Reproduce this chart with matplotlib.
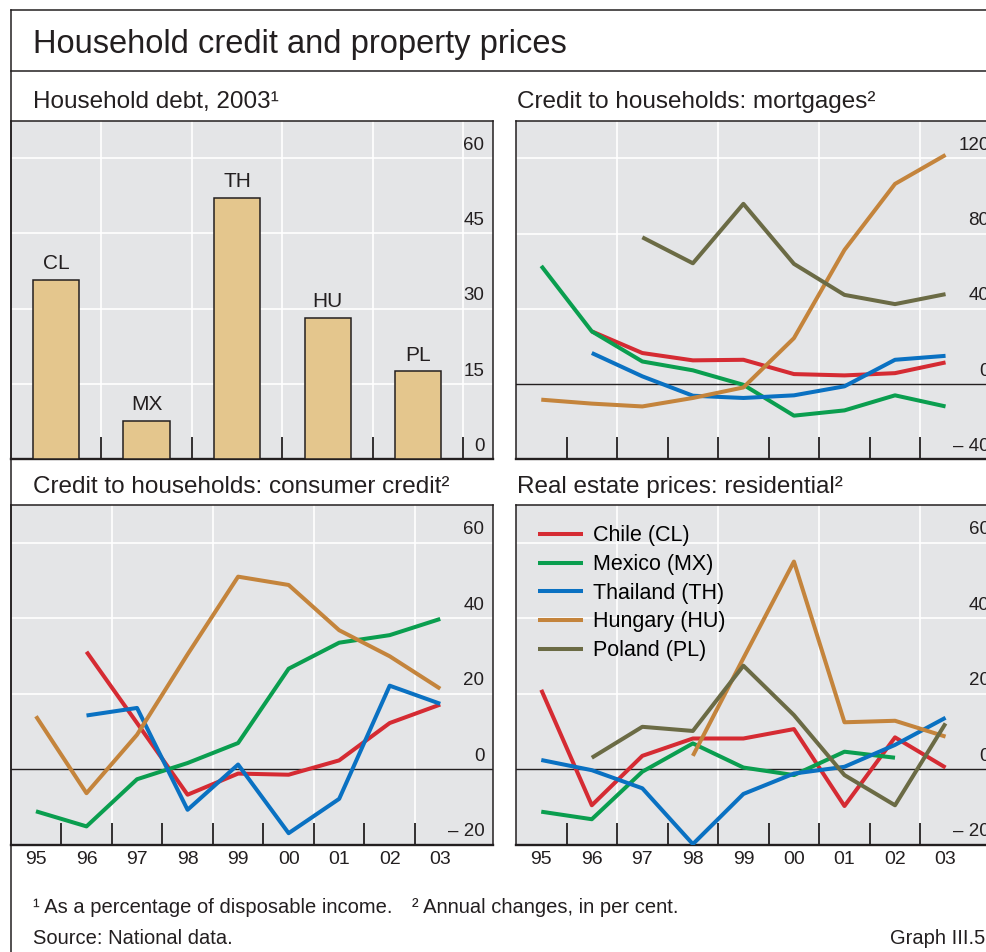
import numpy as np
import matplotlib
matplotlib.use('Agg')
import matplotlib.pyplot as plt
from matplotlib.transforms import offset_copy, blended_transform_factory
from matplotlib.lines import Line2D

plt.rcParams['font.family'] = ['Liberation Sans', 'DejaVu Sans']

nan = np.nan

# ---------------- data ----------------
countries = ['CL', 'MX', 'TH', 'HU', 'PL']
household_debt = [35.7, 7.6, 52.0, 28.1, 17.5]

years = ['95', '96', '97', '98', '99', '00', '01', '02', '03']
series_names = ['Chile (CL)', 'Mexico (MX)', 'Thailand (TH)', 'Hungary (HU)', 'Poland (PL)']

chile_mort = [nan, 28.0, 16.5, 12.6, 12.9, 5.3, 4.6, 5.8, 11.5]
mexico_mort = [62.8, 28.0, 12.0, 7.3, -0.4, -16.8, -14.0, -6.0, -11.9]
thai_mort = [nan, 16.5, 4.1, -6.2, -7.4, -6.0, -1.2, 12.9, 15.0]
hung_mort = [-8.3, -10.4, -11.9, -7.4, -1.8, 24.4, 71.3, 106.4, 121.8]
pol_mort = [nan, nan, 78.0, 64.2, 95.8, 63.9, 47.4, 42.5, 47.8]

chile_cons = [nan, 31.1, 12.2, -6.8, -1.2, -1.5, 2.3, 12.2, 17.1]
mexico_cons = [-11.2, -15.2, -2.7, 1.6, 6.9, 26.6, 33.5, 35.5, 39.8]
thai_cons = [nan, 14.2, 16.2, -10.8, 1.2, -17.0, -7.9, 22.1, 17.3]
hung_cons = [14.0, -6.4, 9.1, 30.4, 51.0, 48.8, 36.8, 29.9, 21.3]

chile_re = [21.0, -9.6, 3.5, 8.1, 8.1, 10.6, -9.8, 8.4, 0.4]
mexico_re = [-11.3, -13.3, -0.7, 6.8, 0.4, -1.6, 4.6, 3.0, nan]
thai_re = [2.4, -0.3, -5.1, -19.9, -6.6, -1.2, 0.6, 6.4, 13.6]
hung_re = [nan, nan, nan, 3.5, 29.4, 55.0, 12.4, 12.8, 8.6]
pol_re = [nan, 3.0, 11.2, 10.1, 27.4, 14.3, -1.6, -9.6, 12.1]

# ---------------- style ----------------
DARK = '#231f20'
BG = '#e4e5e7'
BAR = '#e4c68d'
COLORS = ['#d52b33', '#0a9e4f', '#0a71c2', '#c4843c', '#6b6b45']

W, H = 987, 952
fig = plt.figure(figsize=(W / 100, H / 100), dpi=100)


def rect(l, t, r, b):
    return [l / W, 1 - b / H, (r - l) / W, (b - t) / H]


def fig_line(x0, y0, x1, y1):
    fig.add_artist(Line2D([x0 / W, x1 / W], [1 - y0 / H, 1 - y1 / H],
                          transform=fig.transFigure, color=DARK, lw=1.1))


def fig_text(x, y, s, size, ha='left'):
    fig.text(x / W, 1 - y / H, s, fontsize=size, ha=ha, va='baseline', color=DARK)


def base_style(ax, ylim, yticks, ylabels, vgrid, minor, xlim, zero_line):
    ax.set_facecolor(BG)
    ax.set_xlim(xlim)
    ax.set_ylim(ylim)
    for v in yticks:
        if v == 0 and zero_line:
            ax.axhline(0, color=DARK, lw=1.0, zorder=2)
        elif ylim[0] < v < ylim[1]:
            ax.axhline(v, color='white', lw=1.2, zorder=1)
    for v in vgrid:
        ax.axvline(v, color='white', lw=1.2, zorder=1)
    trans = offset_copy(blended_transform_factory(ax.transAxes, ax.transData),
                        fig=fig, x=-6.5, y=6.0, units='points')
    for v, lab in zip(yticks, ylabels):
        ax.text(1, v, lab, transform=trans, ha='right', va='baseline',
                fontsize=13.5, color=DARK, clip_on=False, zorder=5)
    ax.set_yticks([])
    ax.set_xticks(minor, minor=True)
    ax.tick_params(axis='x', which='minor', direction='in', length=15.5,
                   width=1.3, color=DARK)
    for s in ax.spines.values():
        s.set_color(DARK)
        s.set_linewidth(1.1)
    ax.spines['bottom'].set_linewidth(1.7)


# ---------------- panel 1: bars ----------------
ax1 = fig.add_axes(rect(10.7, 120.7, 493.3, 459.3))
base_style(ax1, (0, 67.4), [0, 15, 30, 45, 60], ['0', '15', '30', '45', '60'],
           np.arange(0.5, 5), np.arange(0.5, 5), (-0.5, 4.83), False)
xpos = np.arange(len(countries))
ax1.bar(xpos, household_debt, width=0.51, color=BAR, edgecolor=DARK, lw=1.1, zorder=3)
for x, v, c in zip(xpos, household_debt, countries):
    ax1.annotate(c, (x, v), xytext=(0, 7.7), textcoords='offset points',
                 ha='center', va='baseline', fontsize=15, color=DARK)
ax1.set_xticks(xpos)
ax1.set_xticklabels([])
ax1.tick_params(axis='x', which='major', length=0)

# ---------------- line panels ----------------
xi = np.arange(len(years))
xlim_l = (-0.5, 9.05)
minor_l = np.arange(0.5, 8)
vgrid_l = [1.5, 3.5, 5.5, 7.5]


def line_panel(rc, series, ylim, yticks, ylabels, show_x, legend=False):
    ax = fig.add_axes(rc)
    base_style(ax, ylim, yticks, ylabels, vgrid_l, minor_l, xlim_l, True)
    for (name, data), col in zip(series, COLORS):
        if data is None:
            continue
        ax.plot(xi, data, color=col, lw=2.9, solid_capstyle='butt', zorder=3, label=name)
    ax.set_xticks(xi)
    if show_x:
        ax.set_xticklabels(years, fontsize=14, color=DARK)
    else:
        ax.set_xticklabels([])
    ax.tick_params(axis='x', which='major', length=0, pad=5)
    if legend:
        ax.legend(loc='upper left', bbox_to_anchor=(22 / 482.6, 1 - 20.5 / 339.5),
                  frameon=False, fontsize=15.5, handlelength=2.1, handletextpad=0.45,
                  labelspacing=0.355, borderpad=0, borderaxespad=0)
    return ax


line_panel(rect(516, 120.7, 998.6, 459.3),
           list(zip(series_names, [chile_mort, mexico_mort, thai_mort, hung_mort, pol_mort])),
           (-40, 140), [120, 80, 40, 0, -40], ['120', '80', '40', '0', '– 40'], False)

line_panel(rect(10.7, 505, 493.3, 844.5),
           list(zip(series_names, [chile_cons, mexico_cons, thai_cons, hung_cons, None])),
           (-20, 70), [60, 40, 20, 0, -20], ['60', '40', '20', '0', '– 20'], True)

line_panel(rect(516, 505, 998.6, 844.5),
           list(zip(series_names, [chile_re, mexico_re, thai_re, hung_re, pol_re])),
           (-20, 70), [60, 40, 20, 0, -20], ['60', '40', '20', '0', '– 20'], True, legend=True)

# ---------------- frame and text ----------------
fig_line(10.7, 10, 10.7, 952)
fig_line(10.7, 10, 987, 10)
fig_line(10.7, 70.7, 987, 70.7)

fig_text(33, 53.3, 'Household credit and property prices', 23.5)
fig_text(33, 108.3, 'Household debt, 2003¹', 17.5)
fig_text(517, 108.3, 'Credit to households: mortgages²', 17.5)
fig_text(33, 492.6, 'Credit to households: consumer credit²', 17.5)
fig_text(517, 492.6, 'Real estate prices: residential²', 17.5)

fig_text(33, 913, '¹ As a percentage of disposable income.', 14.5)
fig_text(412, 913, '² Annual changes, in per cent.', 14.5)
fig_text(33, 944, 'Source: National data.', 14.5)
fig_text(985, 944, 'Graph III.5', 14.5, ha='right')

fig.savefig('out.png', dpi=100)
